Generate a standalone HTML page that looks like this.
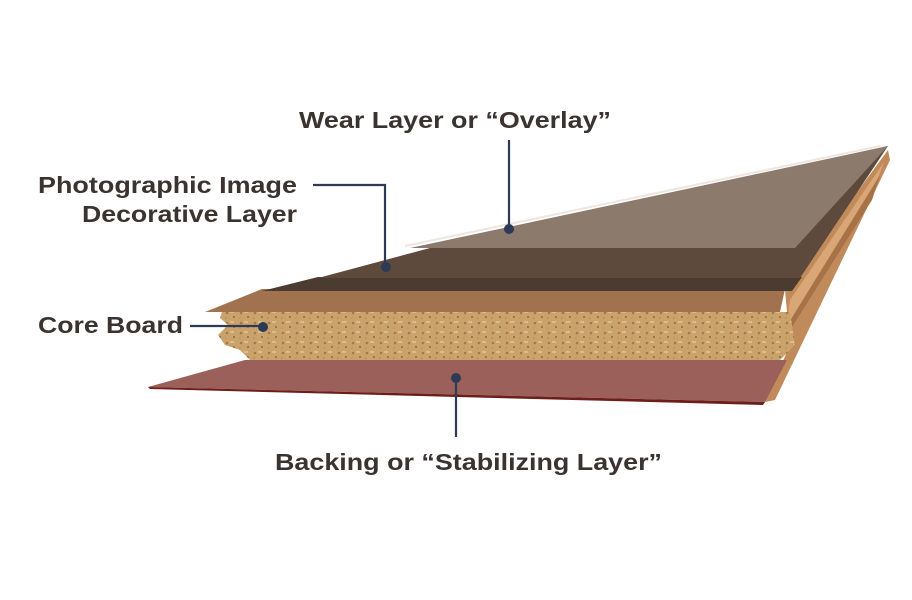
<!DOCTYPE html>
<html><head><meta charset="utf-8"><style>
html,body{margin:0;padding:0;background:#fff;width:912px;height:600px;overflow:hidden}
svg{display:block}
text{font-family:"Liberation Sans",sans-serif;font-weight:bold;fill:#3b3330;font-size:23px}
</style></head><body>
<svg width="912" height="600" viewBox="0 0 912 600" xmlns="http://www.w3.org/2000/svg">
<defs>
<pattern id="cork" width="14" height="10" patternUnits="userSpaceOnUse">
<rect width="14" height="10" fill="#caa36c"/>
<circle cx="3" cy="3" r="1.3" fill="#a07a48"/>
<circle cx="10" cy="7" r="1" fill="#8e6a3e"/>
<rect x="6" y="1" width="4" height="2" fill="#dcbc88"/>
<circle cx="2" cy="8" r="0.8" fill="#b08855"/>
</pattern>
</defs>
<polygon points="785,290 888,150 890,160 775,400 765,402 790,345" fill="#c08a5a"/>
<polygon points="790,300 884,162 870,200 785,335" fill="#d9a676"/>
<polygon points="775,345 880,175 872,200 770,362" fill="#a87248"/>
<polygon points="148,387 245,360 787,360 765,402" fill="#9c605b"/>
<polygon points="148,387 765,402 763,405 150,389" fill="#6e1e1a"/>
<polygon points="222,312 790,312 795,345 780,360 250,360 240,350 225,345 218,335 228,325 220,318" fill="url(#cork)"/>
<polygon points="205,312 262,289 785,289 780,312" fill="#a0734e"/>
<polygon points="262,291 318,277 802,277 792,291" fill="#4c3b30"/>
<polygon points="318,278 430,248 888,146 800,278" fill="#5e4a3d"/>
<polygon points="410,248 888,146 795,248" fill="#8c7a6c"/>
<line x1="405" y1="246" x2="880" y2="146" stroke="#eee6e0" stroke-width="2"/>
<g stroke="#2d3a55" stroke-width="2.2" fill="none">
<line x1="509" y1="140" x2="509" y2="228"/>
<polyline points="313,185 385,185 385,266"/>
<line x1="190" y1="326" x2="262" y2="326"/>
<line x1="456" y1="378" x2="456" y2="437"/>
</g>
<g fill="#2d3a55">
<circle cx="509" cy="229" r="5"/>
<circle cx="386" cy="267" r="5"/>
<circle cx="263" cy="327" r="5"/>
<circle cx="456" cy="378" r="5"/>
</g>
<text x="299" y="128" textLength="312" lengthAdjust="spacingAndGlyphs">Wear Layer or “Overlay”</text>
<text x="38" y="193" textLength="259" lengthAdjust="spacingAndGlyphs">Photographic Image</text>
<text x="82" y="222" textLength="215" lengthAdjust="spacingAndGlyphs">Decorative Layer</text>
<text x="38" y="333" textLength="145" lengthAdjust="spacingAndGlyphs">Core Board</text>
<text x="275" y="470" textLength="387" lengthAdjust="spacingAndGlyphs">Backing or “Stabilizing Layer”</text>
</svg>
</body></html>
